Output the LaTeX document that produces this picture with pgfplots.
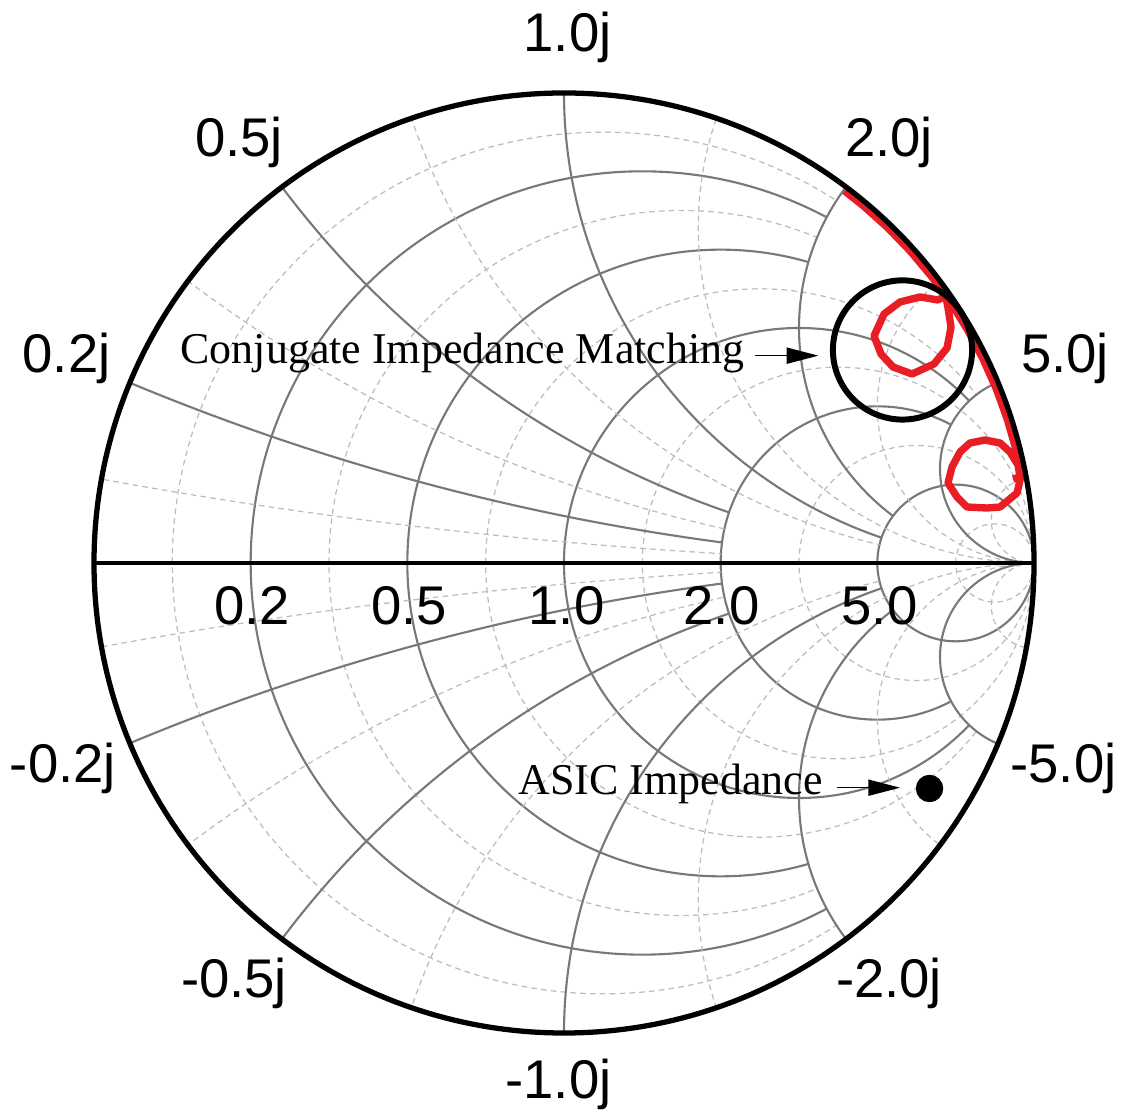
\documentclass[border=0pt]{standalone}
\usepackage{fontspec}
\setmainfont{Liberation Serif}
\newfontfamily\chartsans{Liberation Sans}
\usepackage{pgfplots}
\pgfplotsset{compat=1.18}
\usetikzlibrary{arrows.meta}

\definecolor{trace}{RGB}{232,30,36}
\definecolor{majorgray}{RGB}{120,120,120}
\definecolor{minorgray}{RGB}{188,188,188}

\tikzset{
  majorgrid/.style={draw=majorgray, line width=0.6pt},
  minorgrid/.style={draw=minorgray, line width=0.35pt, dash pattern=on 1.6pt off 1.2pt},
  ticklab/.style={font=\chartsans\fontsize{15.5}{18}\selectfont, anchor=base, inner sep=0pt},
  note/.style={font=\fontsize{12.5}{15}\selectfont, anchor=base east, inner sep=0pt},
}

\begin{document}
\begin{tikzpicture}
\begin{axis}[
  x=4.7cm, y=4.7cm,
  xmin=-1, xmax=1, ymin=-1, ymax=1,
  hide axis, clip=false,
]
% reflection-coefficient plane; overall extent of the figure
\path (axis cs:-1.2,-1.16809) rectangle (axis cs:1.18511,1.19787);

% ---- constant-resistance circles, truncated at |x| = 2
\begin{scope}[even odd rule, overlay]
  \clip (axis cs:-1.1,-1.1) rectangle (axis cs:1.1,1.1)
        (axis cs:1,0.5) circle[radius=0.5]
        (axis cs:1,-0.5) circle[radius=0.5];
  \draw[minorgrid] (axis cs:0.08333,0) circle[radius=0.91667];
  \draw[minorgrid] (axis cs:0.25,0) circle[radius=0.75];
  \draw[majorgrid] (axis cs:0.16667,0) circle[radius=0.83333];
  \draw[majorgrid] (axis cs:0.33333,0) circle[radius=0.66667];
\end{scope}
% ---- constant-resistance circles, truncated at |x| = 5
\begin{scope}[even odd rule, overlay]
  \clip (axis cs:-1.1,-1.1) rectangle (axis cs:1.1,1.1)
        (axis cs:1,0.2) circle[radius=0.2]
        (axis cs:1,-0.2) circle[radius=0.2];
  \draw[minorgrid] (axis cs:0.41667,0) circle[radius=0.58333];
  \draw[majorgrid] (axis cs:0.5,0) circle[radius=0.5];
  \draw[majorgrid] (axis cs:0.66667,0) circle[radius=0.33333];
\end{scope}
% ---- full constant-resistance circles
\begin{scope}[overlay]
  \draw[minorgrid] (axis cs:0.58333,0) circle[radius=0.41667];
  \draw[minorgrid] (axis cs:0.75,0) circle[radius=0.25];
  \draw[minorgrid] (axis cs:0.91667,0) circle[radius=0.08333];
  \draw[majorgrid] (axis cs:0.83333,0) circle[radius=0.16667];
\end{scope}

% ---- constant-reactance arcs, truncated at r = 2
\begin{scope}[even odd rule, overlay]
  \clip (axis cs:0,0) circle[radius=1]
        (axis cs:0.66667,0) circle[radius=0.33333];
  \draw[minorgrid] (axis cs:1,11) circle[radius=11];
  \draw[minorgrid] (axis cs:1,-11) circle[radius=11];
  \draw[minorgrid] (axis cs:1,3) circle[radius=3];
  \draw[minorgrid] (axis cs:1,-3) circle[radius=3];
  \draw[majorgrid] (axis cs:1,5) circle[radius=5];
  \draw[majorgrid] (axis cs:1,-5) circle[radius=5];
  \draw[majorgrid] (axis cs:1,2) circle[radius=2];
  \draw[majorgrid] (axis cs:1,-2) circle[radius=2];
\end{scope}
% ---- constant-reactance arcs, truncated at r = 5
\begin{scope}[even odd rule, overlay]
  \clip (axis cs:0,0) circle[radius=1]
        (axis cs:0.83333,0) circle[radius=0.16667];
  \draw[minorgrid] (axis cs:1,1.4) circle[radius=1.4];
  \draw[minorgrid] (axis cs:1,-1.4) circle[radius=1.4];
  \draw[majorgrid] (axis cs:1,1) circle[radius=1];
  \draw[majorgrid] (axis cs:1,-1) circle[radius=1];
  \draw[majorgrid] (axis cs:1,0.5) circle[radius=0.5];
  \draw[majorgrid] (axis cs:1,-0.5) circle[radius=0.5];
\end{scope}
% ---- full constant-reactance arcs
\begin{scope}[overlay]
  \clip (axis cs:0,0) circle[radius=1];
  \draw[minorgrid] (axis cs:1,0.71429) circle[radius=0.71429];
  \draw[minorgrid] (axis cs:1,-0.71429) circle[radius=0.71429];
  \draw[minorgrid] (axis cs:1,0.33333) circle[radius=0.33333];
  \draw[minorgrid] (axis cs:1,-0.33333) circle[radius=0.33333];
  \draw[minorgrid] (axis cs:1,0.09091) circle[radius=0.09091];
  \draw[minorgrid] (axis cs:1,-0.09091) circle[radius=0.09091];
  \draw[majorgrid] (axis cs:1,0.2) circle[radius=0.2];
  \draw[majorgrid] (axis cs:1,-0.2) circle[radius=0.2];
\end{scope}

% ---- conjugate-match highlight ring
\addplot[only marks, mark=o, mark size=19.8pt,
  mark options={draw=black, line width=1.7pt}] coordinates {(0.7202,0.4532)};

% ---- measured reflection coefficient of the antenna sweep
\addplot[trace, line width=2.1pt, line join=round, mark=none] coordinates {
  (0.5967,0.7918) (0.6373,0.7595) (0.6888,0.7132) (0.7368,0.6634)
  (0.7813,0.6104) (0.8122,0.5687)
  (0.7957,0.5596) (0.7574,0.5660) (0.7149,0.5553) (0.6809,0.5298)
  (0.6596,0.4830) (0.6745,0.4447) (0.7000,0.4170) (0.7404,0.4021)
  (0.7872,0.4234) (0.8149,0.4574) (0.8234,0.5021) (0.8170,0.5426)
  (0.8122,0.5687)
  (0.8315,0.5400) (0.8587,0.4958) (0.8912,0.4347) (0.9193,0.3714)
  (0.9430,0.3064) (0.9621,0.2399) (0.9733,0.1892)
  (0.9638,0.1489) (0.9277,0.1191) (0.9000,0.1170) (0.8574,0.1191)
  (0.8362,0.1404) (0.8170,0.1702) (0.8255,0.2043) (0.8426,0.2362)
  (0.8638,0.2553) (0.8957,0.2617) (0.9277,0.2553) (0.9489,0.2362)
  (0.9660,0.2085) (0.9702,0.1830) (0.9553,0.1787)
};

% ---- chip input impedance
\addplot[only marks, mark=*, mark size=3.7pt, black] coordinates {(0.7777,-0.4798)};

% ---- chart boundary and real axis
\draw[black, line width=1.5pt] (axis cs:0,0) circle[radius=1];
\draw[black, line width=1.1pt] (axis cs:-1,0) -- (axis cs:1,0);

% ---- resistance labels
\node[ticklab] at (axis cs:-0.6638,-0.1319) {0.2};
\node[ticklab] at (axis cs:-0.3298,-0.1319) {0.5};
\node[ticklab] at (axis cs:0.0053,-0.1319) {1.0};
\node[ticklab] at (axis cs:0.3351,-0.1319) {2.0};
\node[ticklab] at (axis cs:0.6713,-0.1319) {5.0};

% ---- reactance labels
\node[ticklab] at (axis cs:0.0074,1.0872) {1.0j};
\node[ticklab] at (axis cs:-0.6915,0.8638) {0.5j};
\node[ticklab] at (axis cs:0.6915,0.8638) {2.0j};
\node[ticklab] at (axis cs:-1.0585,0.4043) {0.2j};
\node[ticklab] at (axis cs:1.0660,0.4043) {5.0j};
\node[ticklab] at (axis cs:-1.0660,-0.4660) {-0.2j};
\node[ticklab] at (axis cs:1.0628,-0.4660) {-5.0j};
\node[ticklab] at (axis cs:-0.7021,-0.9234) {-0.5j};
\node[ticklab] at (axis cs:0.6915,-0.9234) {-2.0j};
\node[ticklab] at (axis cs:-0.0117,-1.1383) {-1.0j};

% ---- annotations
\node[note] at (axis cs:0.3851,0.4249) {Conjugate Impedance Matching};
\draw[line width=0.35pt, -{Triangle[length=9pt,width=4.6pt]}]
  (axis cs:0.4064,0.4411) -- (axis cs:0.5411,0.4411);
\node[note] at (axis cs:0.5517,-0.4936) {ASIC Impedance};
\draw[line width=0.35pt, -{Triangle[length=9pt,width=4.6pt]}]
  (axis cs:0.5802,-0.4781) -- (axis cs:0.7149,-0.4781);
\end{axis}
\end{tikzpicture}
\end{document}
